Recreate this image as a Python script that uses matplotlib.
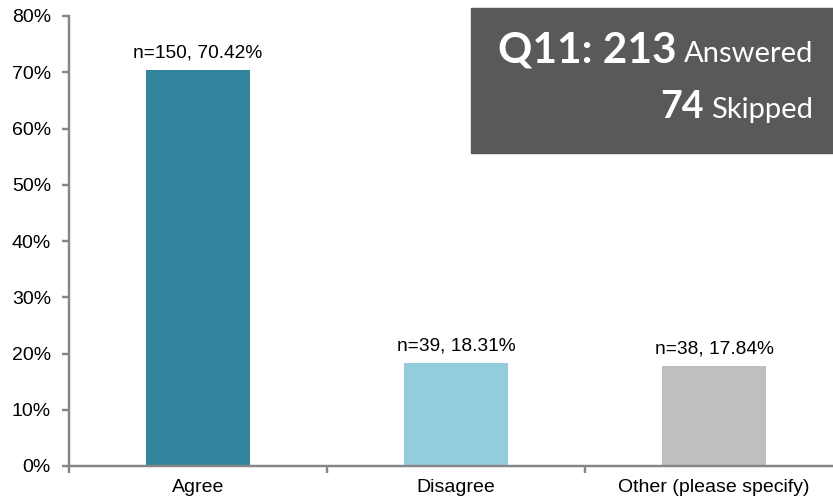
import numpy as np
import matplotlib
matplotlib.use("Agg")
import matplotlib.pyplot as plt
from matplotlib.patches import Rectangle

categories = ["Agree", "Disagree", "Other (please specify)"]
counts = [150, 39, 38]
percents = [70.42, 18.31, 17.84]
colors = ["#31849B", "#92CDDC", "#BFBFBF"]
question = "Q11:"
answered = 213
skipped = 74

plt.rcParams['font.family'] = ['Liberation Sans', 'DejaVu Sans']
axis_color = "#868686"

fig = plt.figure(figsize=(8.33, 5.03), dpi=100)
# axes runs a bit past the right edge, like the original
ax = fig.add_axes([69 / 833, 37 / 503, 774 / 833, 450 / 503])

x = np.arange(len(categories))
ax.bar(x, percents, width=0.403, color=colors, zorder=2)

for xi, n, p in zip(x, counts, percents):
    ax.annotate("n=%d, %.2f%%" % (n, p), (xi, p), xytext=(0, 9), textcoords='offset points',
                ha='center', va='baseline', fontsize=13.8, color="#000000")

ax.set_xlim(-0.5, 2.5)
ax.set_ylim(0, 80)
ax.set_yticks(np.arange(0, 81, 10))
ax.set_yticklabels(["%d%%" % v for v in range(0, 81, 10)], fontsize=14)

ax.set_xticks([-0.5, 0.5, 1.5, 2.5])
ax.set_xticklabels([])
ax.set_xticks(x, minor=True)
ax.set_xticklabels(categories, minor=True, fontsize=14)
ax.tick_params(axis='x', which='major', length=5, width=1.75, color=axis_color, direction='out')
ax.tick_params(axis='x', which='minor', length=0, pad=9)
ax.tick_params(axis='y', length=5, width=1.75, color=axis_color, pad=8)

for side in ['top', 'right']:
    ax.spines[side].set_visible(False)
for side in ['left', 'bottom']:
    ax.spines[side].set_color(axis_color)
    ax.spines[side].set_linewidth(1.75)

# summary box
fig.patches.append(Rectangle((471 / 833, (503 - 153) / 503), 1.0, 145 / 503,
                             transform=fig.transFigure, color="#595959", zorder=0))

fig.canvas.draw()
r = fig.canvas.get_renderer()


def box_line(y, bold_txt, reg_txt, bsize, rsize, gap):
    t2 = fig.text(813 / 833, y, reg_txt, ha='right', va='baseline',
                  fontsize=rsize, color='white', family='Lato')
    bb = t2.get_window_extent(renderer=r)
    t1 = fig.text((bb.x0 - gap) / fig.bbox.width, y, bold_txt, ha='right', va='baseline',
                  fontsize=bsize, color='white', family='Lato', fontweight='bold')
    return t1, t2


box_line((503 - 62) / 503, "%s %d" % (question, answered), "Answered", 30.5, 21, 7)
box_line((503 - 118) / 503, "%d" % skipped, "Skipped", 27, 21, 7)

fig.savefig("out.png", dpi=100)
